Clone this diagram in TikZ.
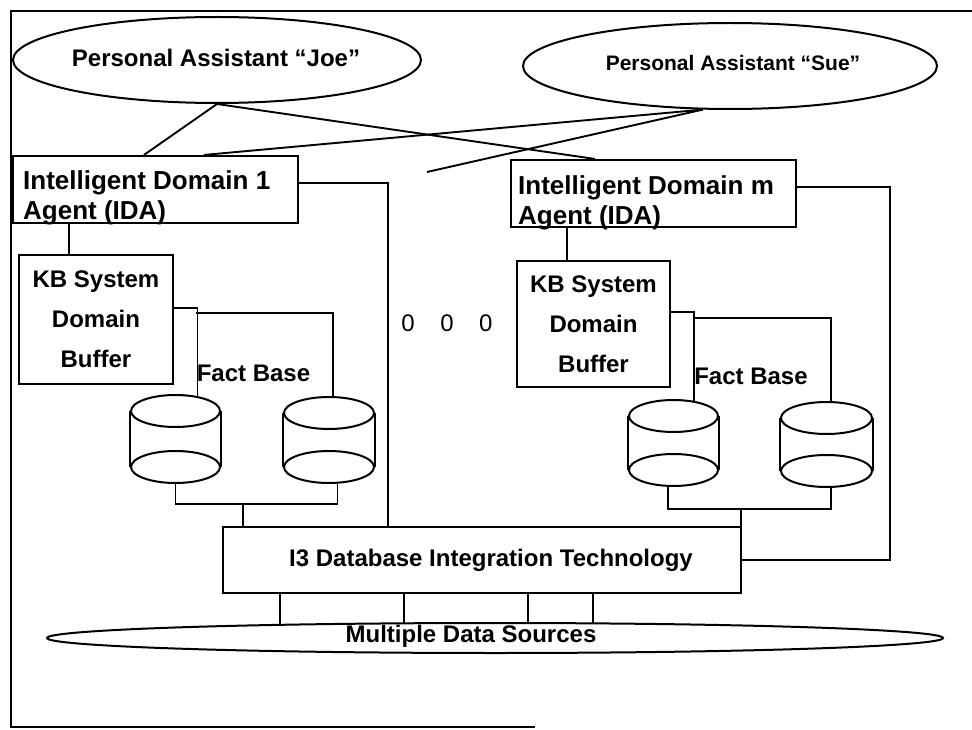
\documentclass[tikz,border=0pt]{standalone}
\usepackage{fontspec}
\setmainfont{Liberation Sans}
\usetikzlibrary{shapes.geometric,calc}
\begin{document}
\begin{tikzpicture}[x=1pt,y=-1pt,
  frame/.style={line width=2.8pt},
  boxst/.style={draw,line width=2.1pt,inner sep=0pt},
  ellst/.style={draw,ellipse,line width=2pt,inner sep=0pt},
  conn/.style={line width=1.9pt},
  lbl/.style={font=\bfseries\fontsize{24}{28}\selectfont},
  idalbl/.style={font=\bfseries\fontsize{26}{30}\selectfont,align=left,inner sep=0pt,anchor=west},
  kblbl/.style={font=\bfseries\fontsize{24}{40}\selectfont,align=center},
  cylend/.style={draw,ellipse,line width=2pt,inner sep=0pt,minimum height=32pt},
  dots/.style={font=\fontsize{24}{28}\selectfont,inner sep=0pt}
]
\useasboundingbox (0,0) rectangle (972,730);
% frame
\draw[frame] (972,11) -- (11,11) -- (11,727) -- (535,727);

% personal assistants
\node[ellst,minimum width=408pt,minimum height=86pt] (joe) at (217,60) {};
\node[lbl,inner sep=0pt] (joet) at (216,58) {Personal Assistant “Joe”};
\node[ellst,minimum width=414pt,minimum height=86pt] (sue) at (730,66) {};
\node[lbl,font=\bfseries\fontsize{21}{25}\selectfont,inner sep=0pt] (suet) at (733,63) {Personal Assistant “Sue”};

% IDA boxes
\node[boxst,minimum width=285pt,minimum height=67pt] (ida1) at (155.5,189.5) {};
\node[idalbl] (ida1t) at (23,198) {Intelligent Domain 1\\Agent (IDA)};
\node[boxst,minimum width=285pt,minimum height=67pt] (idam) at (653.5,193.5) {};
\node[idalbl] (idamt) at (518,203) {Intelligent Domain m\\Agent (IDA)};

% KB boxes
\node[boxst,kblbl,minimum width=154pt,minimum height=129pt] (kb1) at (96,319.5) {KB System\\Domain\\Buffer};
\node[boxst,kblbl,minimum width=153pt,minimum height=126pt] (kbm) at (593.5,324) {KB System\\Domain\\Buffer};

% Fact base labels
\node[lbl,inner sep=0pt] (fb1t) at (253.5,373) {Fact Base};
\node[lbl,inner sep=0pt] (fbmt) at (751,376) {Fact Base};

% dots
\node[dots] (dd) at (447,323) {0\hspace{25.5pt}0\hspace{25.5pt}0};

% cylinders
\node[cylend,minimum width=89pt] (c1t) at (175.5,411) {};
\node[cylend,minimum width=89pt] (c1b) at (175.5,467) {};
\draw[line width=2pt] (c1t.west) -- (c1b.west) (c1t.east) -- (c1b.east);
\node[cylend,minimum width=90pt] (c2t) at (329,413) {};
\node[cylend,minimum width=90pt] (c2b) at (329,467) {};
\draw[line width=2pt] (c2t.west) -- (c2b.west) (c2t.east) -- (c2b.east);
\node[cylend,minimum width=89pt] (c3t) at (673.5,416) {};
\node[cylend,minimum width=89pt] (c3b) at (673.5,470) {};
\draw[line width=2pt] (c3t.west) -- (c3b.west) (c3t.east) -- (c3b.east);
\node[cylend,minimum width=91pt] (c4t) at (826.5,418) {};
\node[cylend,minimum width=91pt] (c4b) at (826.5,471) {};
\draw[line width=2pt] (c4t.west) -- (c4b.west) (c4t.east) -- (c4b.east);

% I3 box and data sources
\node[boxst,lbl,minimum width=518pt,minimum height=66pt] (i3) at (482,560) {\hspace*{18pt}I3 Database Integration Technology};
\node[ellst,minimum width=896pt,minimum height=30pt] (mds) at (495,638) {};
\node[lbl,inner sep=0pt] (mdst) at (471,636) {Multiple Data Sources};

% junction coordinates
\coordinate (j1) at (196,313);
\coordinate (j3) at (693,318);
\coordinate (fb1) at (243,504);
\coordinate (fbm) at (741,509);
\coordinate (cr) at (890,560);
\coordinate (fe) at (427,172);
\path ([shift={(118.7:448pt and 15pt)}]mds.center) coordinate (m1);
\path ([shift={(101.7:448pt and 15pt)}]mds.center) coordinate (m2);
\path ([shift={(85.8:448pt and 15pt)}]mds.center) coordinate (m3);
\path ([shift={(77.4:448pt and 15pt)}]mds.center) coordinate (m4);

% assistants to agents
\draw[conn] (joe.south) -- ([xshift=132pt]ida1.north west);
\draw[conn] (joe.south) -- ([xshift=85pt]idam.north west);
\draw[conn] (sue.-122) -- ([xshift=192pt]ida1.north west);
\draw[conn] (sue.-122) -- (fe);

% domain 1
\draw[conn] ([xshift=57pt]ida1.south west) -- ([xshift=51pt]kb1.north west);
\draw[conn] ([yshift=11.5pt]kb1.east) -| (c1t.34.7);
\draw[conn] (j1) -| (c2t.76);
\draw[conn] (c1b.south) |- (fb1) -| (c2b.-63);
\draw[conn] (fb1) -- (fb1 |- i3.north);
\draw[conn] ([yshift=6.5pt]ida1.east) -| ([xshift=166pt]i3.north west);

% domain m
\draw[conn] ([xshift=57pt]idam.south west) -- ([xshift=51pt]kbm.north west);
\draw[conn] ([yshift=12pt]kbm.east) -| (c3t.36.4);
\draw[conn] (j3) -| (c4t.74.2);
\draw[conn] (c3b.-109.1) |- (fbm) -| (c4b.-74.2);
\draw[conn] (fbm) -- (fbm |- i3.north);
\draw[conn] ([yshift=6.5pt]idam.east) -| (cr) -- (i3.east);

% I3 to data sources
\draw[conn] (i3.south -| m1) -- (m1);
\draw[conn] (i3.south -| m2) -- (m2);
\draw[conn] (i3.south -| m3) -- (m3);
\draw[conn] (i3.south -| m4) -- (m4);
\end{tikzpicture}
\end{document}
